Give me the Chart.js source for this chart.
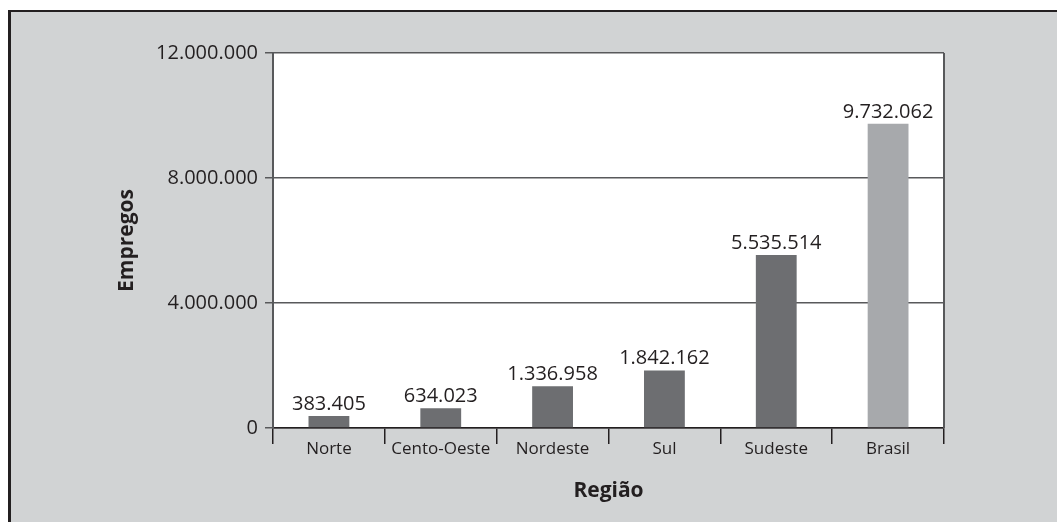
<!DOCTYPE html>
<html lang="pt-BR">
<head>
<meta charset="utf-8">
<title>Empregos por Região</title>
<script src="https://cdn.jsdelivr.net/npm/chart.js@4.4.0/dist/chart.umd.min.js"></script>
<style>
  html, body { margin: 0; padding: 0; background: #ffffff; }
  #wrap { width: 1057px; height: 522px; }
</style>
</head>
<body>
<div id="wrap"><canvas id="chart" width="1057" height="522"></canvas></div>
<script>
// categorias e valores (empregos por região)
const regioes = ['Norte', 'Cento-Oeste', 'Nordeste', 'Sul', 'Sudeste', 'Brasil'];
const empregos = [383405, 634023, 1336958, 1842162, 5535514, 9732062];
const coresBarras = ['#6d6e71', '#6d6e71', '#6d6e71', '#6d6e71', '#6d6e71', '#a7a9ac'];
const yTicks = [0, 4000000, 8000000, 12000000];

const FONTE = "'Open Sans', 'Noto Sans', sans-serif";
const TEXTO = '#231f20';

// formata com ponto como separador de milhar
const fmt = v => String(Math.round(v)).replace(/\B(?=(\d{3})+(?!\d))/g, '.');

// fundo cinza com borda escura à esquerda e no topo
const fundo = {
    id: 'fundo',
    beforeDraw(chart) {
        const { ctx, width, height } = chart;
        ctx.save();
        ctx.fillStyle = '#ffffff';
        ctx.fillRect(0, 0, width, height);
        ctx.fillStyle = '#d1d3d4';
        ctx.fillRect(8, 10, width - 8, height - 10);
        ctx.fillStyle = '#231f20';
        ctx.fillRect(8, 10, 3, height - 10);
        ctx.fillRect(8, 10, width - 8, 2);
        // área do gráfico em branco
        const a = chart.chartArea;
        ctx.fillStyle = '#ffffff';
        ctx.fillRect(a.left, a.top, a.right - a.left, a.bottom - a.top);
        ctx.restore();
    },
    afterDraw(chart) {
        // linha da direita da área do gráfico
        const { ctx, chartArea: a } = chart;
        ctx.save();
        ctx.strokeStyle = '#58595b';
        ctx.lineWidth = 2;
        ctx.beginPath();
        ctx.moveTo(a.right, a.top);
        ctx.lineTo(a.right, a.bottom);
        ctx.stroke();
        ctx.restore();
    }
};

// rótulos de valor acima das barras
const rotulos = {
    id: 'rotulos',
    afterDatasetsDraw(chart) {
        const { ctx } = chart;
        const meta = chart.getDatasetMeta(0);
        ctx.save();
        ctx.font = '20px ' + FONTE;
        ctx.fillStyle = TEXTO;
        ctx.textAlign = 'center';
        ctx.textBaseline = 'alphabetic';
        meta.data.forEach((bar, i) => {
            ctx.fillText(fmt(empregos[i]), bar.x, bar.y - 6);
        });
        ctx.restore();
    }
};

new Chart(document.getElementById('chart'), {
    type: 'bar',
    data: {
        labels: regioes,
        datasets: [{
            data: empregos,
            backgroundColor: coresBarras,
            borderWidth: 0,
            categoryPercentage: 1,
            barPercentage: 0.365
        }]
    },
    options: {
        responsive: false,
        animation: false,
        layout: { padding: { top: 53, right: 113, left: 0, bottom: 0 } },
        plugins: {
            legend: { display: false },
            tooltip: { enabled: false }
        },
        scales: {
            x: {
                offset: true,
                afterFit: s => { s.height = 94; },
                grid: {
                    offset: true,
                    drawOnChartArea: false,
                    drawTicks: true,
                    tickLength: 16,
                    color: '#231f20',
                    lineWidth: 1.5
                },
                border: { display: true, color: '#231f20', width: 1.5 },
                ticks: {
                    color: TEXTO,
                    font: { family: FONTE, size: 17 },
                    padding: -5,
                    maxRotation: 0
                },
                title: {
                    display: true,
                    text: 'Região',
                    color: TEXTO,
                    font: { family: FONTE, size: 21, weight: 'bold' },
                    padding: { top: 18, bottom: 18 }
                }
            },
            y: {
                min: 0,
                max: 12000000,
                afterFit: s => { s.width = 273; },
                afterBuildTicks: s => { s.ticks = yTicks.map(v => ({ value: v })); },
                grid: {
                    color: '#58595b',
                    lineWidth: 1.5,
                    drawTicks: true,
                    tickLength: 8
                },
                border: { display: true, color: '#58595b', width: 2 },
                ticks: {
                    color: TEXTO,
                    font: { family: FONTE, size: 20 },
                    padding: 7,
                    callback: v => fmt(v)
                },
                title: {
                    display: true,
                    text: 'Empregos',
                    color: TEXTO,
                    font: { family: FONTE, size: 21, weight: 'bold' },
                    padding: { top: 114, bottom: 114 }
                }
            }
        }
    },
    plugins: [fundo, rotulos]
});
</script>
</body>
</html>
